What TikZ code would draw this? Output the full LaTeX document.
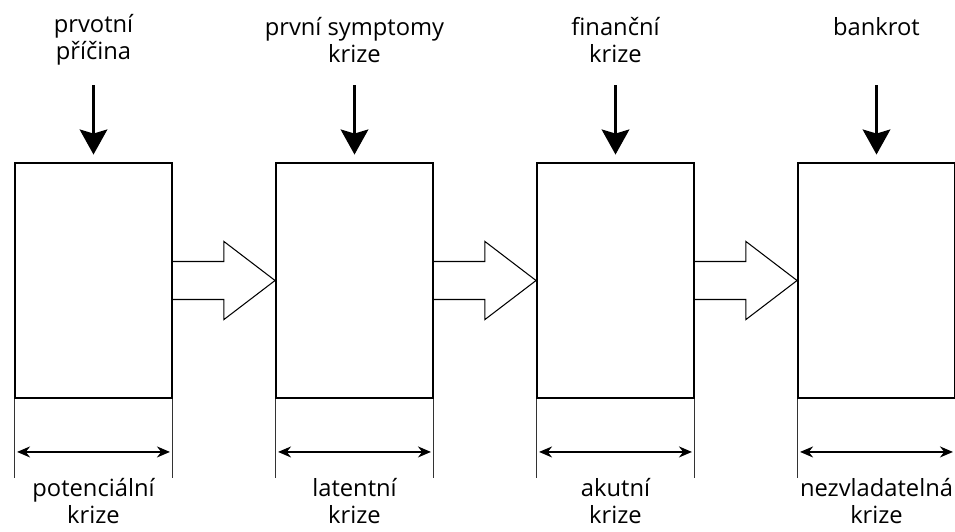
\documentclass[tikz,border=0pt]{standalone}
\usepackage{fontspec}
\setmainfont{Open Sans}
\usetikzlibrary{arrows.meta}
\usetikzlibrary{calc}

\begin{document}
\begin{tikzpicture}[x=0.02cm, y=-0.02cm, font=\fontsize{13.5}{15.5}\selectfont]
    \useasboundingbox (0,0) rectangle (955,531);

    \begin{scope}[every node/.style={draw, line width=1.1pt, minimum width=3.14cm, minimum height=4.7cm, inner sep=0pt}]
        \node (p) at (93.5, 280.5)  {};
        \node (l) at (354.5, 280.5) {};
        \node (a) at (615.5, 280.5) {};
        \node (n) at (876.5, 280.5) {};
    \end{scope}

    \begin{scope}[every node/.style={align=center, inner sep=0pt}]
        \node (tp) at (93.5, 40)   {prvotní\\příčina};
        \node (tl) at (354.5, 40)  {první symptomy\\krize};
        \node (ta) at (615.5, 40)  {finanční\\krize};
        \node (tn) at (876.5, 27)  {bankrot};
        \node (bp) at (93.5, 501)  {potenciální\\krize};
        \node (bl) at (354.5, 501) {latentní\\krize};
        \node (ba) at (615.5, 501) {akutní\\krize};
        \node (bn) at (876.5, 501) {nezvladatelná\\krize};
    \end{scope}

    % svisle sipky nad bloky
    \coordinate (sp) at (93.5, 85);
    \coordinate (sl) at (354.5, 85);
    \coordinate (sa) at (615.5, 85);
    \coordinate (sn) at (876.5, 85);
    \begin{scope}[line width=1.8pt, -{Stealth[length=0.5cm, width=0.55cm, inset=0.08cm]}, shorten >=0.15cm]
        \draw (sp) -- (p.north);
        \draw (sl) -- (l.north);
        \draw (sa) -- (a.north);
        \draw (sn) -- (n.north);
    \end{scope}

    % prazdne sipky mezi bloky
    \begin{scope}[line width=0.6pt, line join=miter]
        \draw ($(p.east)+(0,-19)$) -- ++(51,0) -- ++(0,-20) -- (l.west)
              -- ($(p.east)+(51,39)$) -- ++(0,-20) -- ($(p.east)+(0,19)$);
        \draw ($(l.east)+(0,-19)$) -- ++(51,0) -- ++(0,-20) -- (a.west)
              -- ($(l.east)+(51,39)$) -- ++(0,-20) -- ($(l.east)+(0,19)$);
        \draw ($(a.east)+(0,-19)$) -- ++(51,0) -- ++(0,-20) -- (n.west)
              -- ($(a.east)+(51,39)$) -- ++(0,-20) -- ($(a.east)+(0,19)$);
    \end{scope}

    % kotovani delky fazi
    \begin{scope}[line width=0.6pt, black!80]
        \draw (p.south west) -- ++(0,79);
        \draw (p.south east) -- ++(0,79);
        \draw (l.south west) -- ++(0,79);
        \draw (l.south east) -- ++(0,79);
        \draw (a.south west) -- ++(0,79);
        \draw (a.south east) -- ++(0,79);
        \draw (n.south west) -- ++(0,79);
        \draw (n.south east) -- ++(0,79);
    \end{scope}
    \begin{scope}[line width=1pt, {Stealth[length=0.26cm, width=0.22cm]}-{Stealth[length=0.26cm, width=0.22cm]}]
        \draw ($(p.south west)+(3,53)$) -- ($(p.south east)+(-3,53)$);
        \draw ($(l.south west)+(3,53)$) -- ($(l.south east)+(-3,53)$);
        \draw ($(a.south west)+(3,53)$) -- ($(a.south east)+(-3,53)$);
        \draw ($(n.south west)+(3,53)$) -- ($(n.south east)+(-3,53)$);
    \end{scope}
\end{tikzpicture}
\end{document}
